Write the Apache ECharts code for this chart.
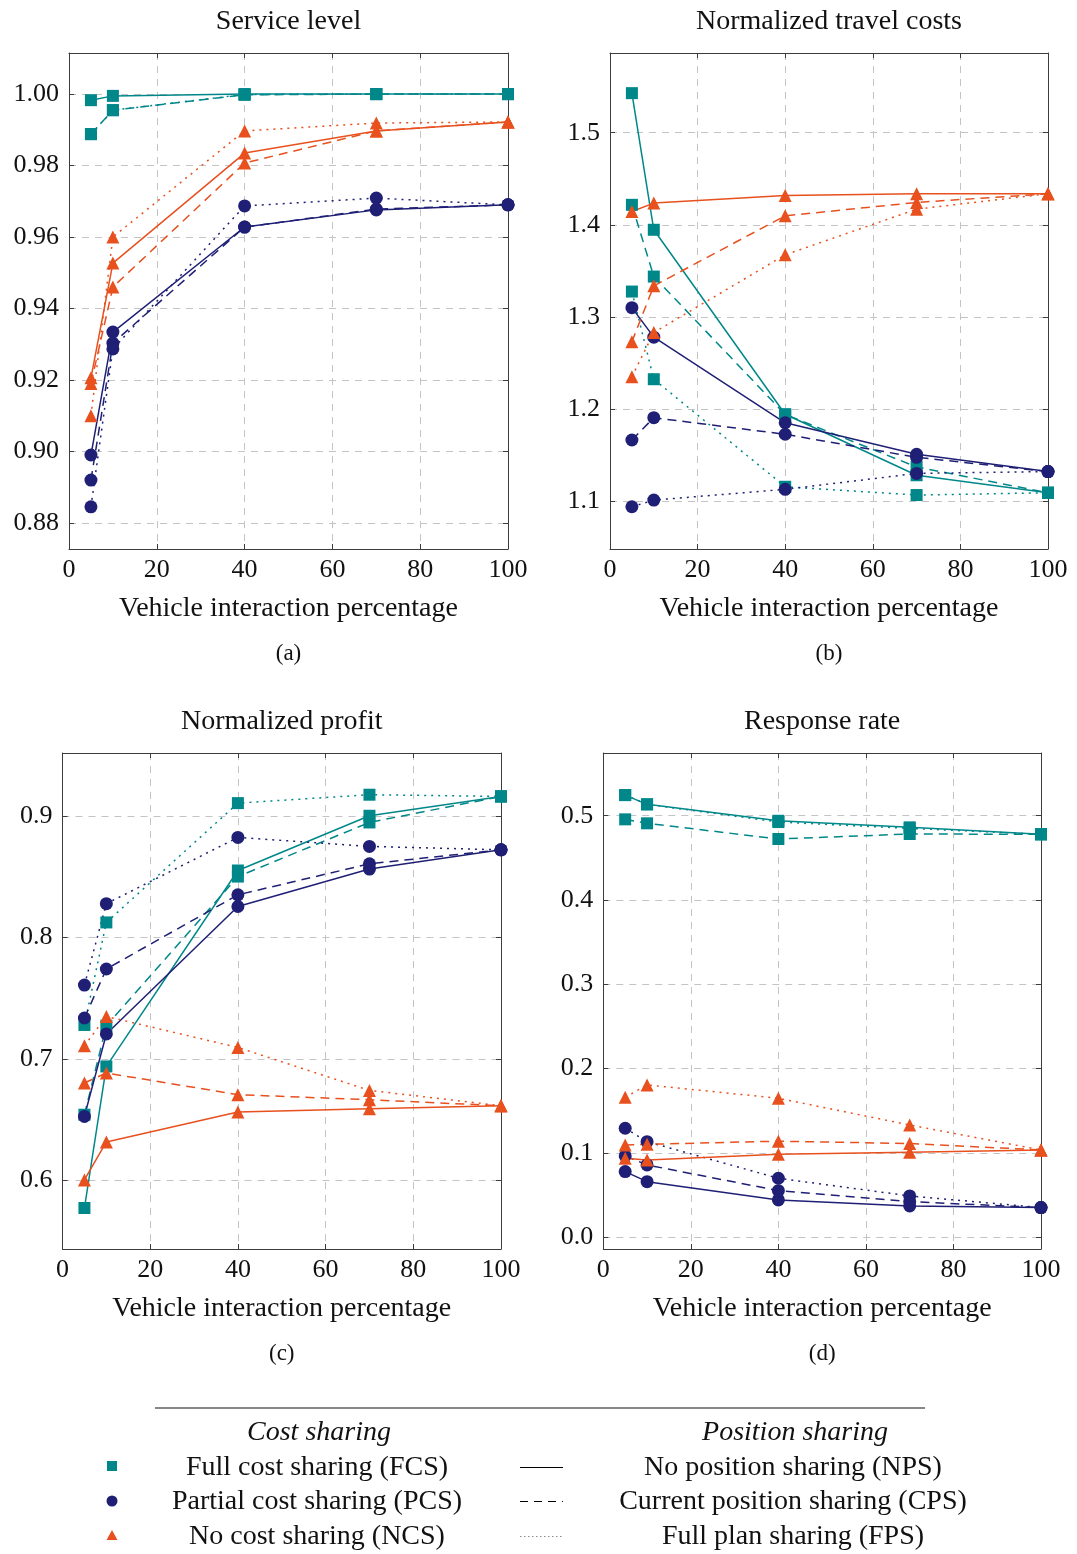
<!DOCTYPE html>
<html>
<head>
<meta charset="utf-8">
<script src="https://cdn.jsdelivr.net/npm/echarts@6/dist/echarts.min.js"></script>
<style>
html, body { margin: 0; padding: 0; background: #fff; }
#main { width: 1077px; height: 1554px; }
</style>
</head>
<body>
<div id="main"></div>
<script>
// x positions shared by every panel
const xValues = [5, 10, 40, 70, 100];
const xTicks = [0, 20, 40, 60, 80, 100];

// (a) Service level
const svcTicks = [0.88, 0.90, 0.92, 0.94, 0.96, 0.98, 1.00];
const svcFcsNps = [0.9983, 0.9995, 1.0000, 1.0000, 1.0000];
const svcFcsCps = [0.9888, 0.9955, 0.9998, 1.0000, 1.0000];
const svcFcsFps = [0.9888, 0.9955, 0.9999, 1.0000, 1.0000];
const svcPcsNps = [0.8990, 0.9334, 0.9628, 0.9676, 0.9690];
const svcPcsCps = [0.8920, 0.9303, 0.9628, 0.9678, 0.9690];
const svcPcsFps = [0.8845, 0.9287, 0.9687, 0.9709, 0.9690];
const svcNcsNps = [0.9206, 0.9527, 0.9835, 0.9897, 0.9922];
const svcNcsCps = [0.9190, 0.9460, 0.9807, 0.9897, 0.9922];
const svcNcsFps = [0.9100, 0.9600, 0.9897, 0.9919, 0.9922];

// (b) Normalized travel costs
const costTicks = [1.1, 1.2, 1.3, 1.4, 1.5];
const costFcsNps = [1.543, 1.3946, 1.1942, 1.128, 1.109];
const costFcsCps = [1.4217, 1.3438, 1.1940, 1.137, 1.109];
const costFcsFps = [1.3275, 1.2323, 1.1155, 1.1065, 1.109];
const costPcsNps = [1.310, 1.278, 1.185, 1.1507, 1.132];
const costPcsCps = [1.1663, 1.1905, 1.1725, 1.1475, 1.132];
const costPcsFps = [1.0938, 1.101, 1.1127, 1.130, 1.132];
const costNcsNps = [1.4145, 1.4236, 1.4318, 1.4337, 1.4337];
const costNcsCps = [1.273, 1.3337, 1.4098, 1.4243, 1.4337];
const costNcsFps = [1.235, 1.283, 1.3674, 1.417, 1.4337];

// (c) Normalized profit
const profitTicks = [0.6, 0.7, 0.8, 0.9];
const profitFcsNps = [0.5775, 0.6939, 0.855, 0.900, 0.9159];
const profitFcsCps = [0.6542, 0.7274, 0.850, 0.8945, 0.9159];
const profitFcsFps = [0.728, 0.8123, 0.9104, 0.9173, 0.9159];
const profitPcsNps = [0.6528, 0.7206, 0.8254, 0.8562, 0.872];
const profitPcsCps = [0.7337, 0.774, 0.835, 0.8605, 0.872];
const profitPcsFps = [0.7608, 0.8277, 0.8822, 0.8748, 0.872];
const profitNcsNps = [0.6006, 0.6318, 0.6564, 0.6592, 0.6616];
const profitNcsCps = [0.6803, 0.6885, 0.6707, 0.6665, 0.6616];
const profitNcsFps = [0.711, 0.735, 0.7095, 0.6742, 0.6616];

// (d) Response rate
const respTicks = [0.0, 0.1, 0.2, 0.3, 0.4, 0.5];
const respFcsNps = [0.5245, 0.5135, 0.494, 0.4862, 0.478];
const respFcsCps = [0.4957, 0.491, 0.4724, 0.4783, 0.478];
const respFcsFps = [0.5245, 0.5135, 0.4925, 0.485, 0.478];
const respPcsNps = [0.0779, 0.066, 0.0443, 0.0372, 0.0352];
const respPcsCps = [0.0965, 0.0858, 0.0553, 0.0423, 0.0352];
const respPcsFps = [0.1293, 0.1134, 0.070, 0.049, 0.0352];
const respNcsNps = [0.0937, 0.0917, 0.0985, 0.1008, 0.1036];
const respNcsCps = [0.1095, 0.1103, 0.1140, 0.1112, 0.1036];
const respNcsFps = [0.166, 0.1807, 0.1649, 0.1332, 0.1036];

const teal = '#00878a';
const navy = '#1f1f75';
const orange = '#e8501e';
const serif = '"Liberation Serif", "DejaVu Serif", serif';
const wordSize = 28;

const costStyle = {
	FCS: { color: teal, symbol: 'rect', size: 12 },
	PCS: { color: navy, symbol: 'circle', size: 13 },
	NCS: { color: orange, symbol: 'triangle', size: 13 }
};
const posStyle = { NPS: 'solid', CPS: [9, 6], FPS: [2, 5] };

const panels = [
	{ title: 'Service level', cap: '(a)', left: 69, top: 53, width: 439, min: 0.8727, max: 1.0115, ticks: svcTicks, dec: 2,
	  data: { FCS: [svcFcsNps, svcFcsCps, svcFcsFps], PCS: [svcPcsNps, svcPcsCps, svcPcsFps], NCS: [svcNcsNps, svcNcsCps, svcNcsFps] } },
	{ title: 'Normalized travel costs', cap: '(b)', left: 610, top: 53, width: 438, min: 1.0479, max: 1.5866, ticks: costTicks, dec: 1,
	  data: { FCS: [costFcsNps, costFcsCps, costFcsFps], PCS: [costPcsNps, costPcsCps, costPcsFps], NCS: [costNcsNps, costNcsCps, costNcsFps] } },
	{ title: 'Normalized profit', cap: '(c)', left: 62.5, top: 753, width: 438.5, min: 0.5438, max: 0.9516, ticks: profitTicks, dec: 1,
	  data: { FCS: [profitFcsNps, profitFcsCps, profitFcsFps], PCS: [profitPcsNps, profitPcsCps, profitPcsFps], NCS: [profitNcsNps, profitNcsCps, profitNcsFps] } },
	{ title: 'Response rate', cap: '(d)', left: 603.3, top: 753, width: 437.7, min: -0.0139, max: 0.5744, ticks: respTicks, dec: 1,
	  data: { FCS: [respFcsNps, respFcsCps, respFcsFps], PCS: [respPcsNps, respPcsCps, respPcsFps], NCS: [respNcsNps, respNcsCps, respNcsFps] } }
];
const plotHeight = 496;

const frame = { show: true, onZero: false, lineStyle: { color: '#3c3c3c', width: 1 } };
const tickIn = { show: true, inside: true, length: 5, lineStyle: { color: '#3c3c3c', width: 1 } };
const gridLine = { show: true, lineStyle: { color: '#c4c4c4', width: 1, type: [7, 6] } };

let grid = [], xAxis = [], yAxis = [], series = [], graphic = [];

panels.forEach((p, i) => {
	grid.push({ left: p.left, top: p.top, width: p.width, height: plotHeight });

	// bottom + top x axes
	xAxis.push({
		gridIndex: i, type: 'value', min: 0, max: 100, interval: 20, position: 'bottom',
		name: 'Vehicle interaction percentage', nameLocation: 'middle', nameGap: 46,
		nameTextStyle: { fontFamily: serif, fontSize: wordSize, color: '#111' },
		axisLine: frame, axisTick: tickIn,
		axisLabel: { margin: 8, fontFamily: serif, fontSize: 26, color: '#111' },
		splitLine: gridLine
	});
	xAxis.push({
		gridIndex: i, type: 'value', min: 0, max: 100, interval: 20, position: 'top',
		axisLine: frame, axisTick: tickIn, axisLabel: { show: false }, splitLine: { show: false }
	});

	// left + right y axes
	yAxis.push({
		gridIndex: i, type: 'value', min: p.min, max: p.max, position: 'left',
		axisLine: frame,
		axisTick: Object.assign({ customValues: p.ticks }, tickIn),
		axisLabel: { customValues: p.ticks, formatter: v => v.toFixed(p.dec), margin: 10, fontFamily: serif, fontSize: 26, color: '#111' },
		splitLine: gridLine
	});
	yAxis.push({
		gridIndex: i, type: 'value', min: p.min, max: p.max, position: 'right',
		axisLine: frame,
		axisTick: Object.assign({ customValues: p.ticks }, tickIn),
		axisLabel: { show: false }, splitLine: { show: false }
	});

	['FCS', 'PCS', 'NCS'].forEach(c => {
		['NPS', 'CPS', 'FPS'].forEach((pos, k) => {
			const cs = costStyle[c];
			series.push({
				type: 'line', name: c + '-' + pos,
				xAxisIndex: 2 * i, yAxisIndex: 2 * i,
				data: xValues.map((x, j) => [x, p.data[c][k][j]]),
				symbol: cs.symbol, symbolSize: cs.size, showAllSymbol: true,
				itemStyle: { color: cs.color },
				lineStyle: { color: cs.color, width: 1.5, type: posStyle[pos] },
				emphasis: { disabled: true }, animation: false
			});
		});
	});

	const cx = p.left + p.width / 2;
	graphic.push({ type: 'text', x: cx, y: p.top - 31, style: { text: p.title, font: wordSize + 'px ' + serif, fill: '#111', align: 'center', verticalAlign: 'middle' } });
	graphic.push({ type: 'text', x: cx, y: p.top + plotHeight + 105, style: { text: p.cap, font: '23px ' + serif, fill: '#111', align: 'center', verticalAlign: 'middle' } });
});

// legend block at the bottom
graphic.push({ type: 'line', shape: { x1: 155, y1: 1408, x2: 925, y2: 1408 }, style: { stroke: '#111', lineWidth: 1.2 } });
graphic.push({ type: 'text', x: 319, y: 1433, style: { text: 'Cost sharing', font: 'italic ' + wordSize + 'px ' + serif, fill: '#111', align: 'center', verticalAlign: 'middle' } });
graphic.push({ type: 'text', x: 795, y: 1433, style: { text: 'Position sharing', font: 'italic ' + wordSize + 'px ' + serif, fill: '#111', align: 'center', verticalAlign: 'middle' } });

const legendRows = [1468, 1502, 1537];
const costNames = ['Full cost sharing (FCS)', 'Partial cost sharing (PCS)', 'No cost sharing (NCS)'];
const posNames = ['No position sharing (NPS)', 'Current position sharing (CPS)', 'Full plan sharing (FPS)'];
legendRows.forEach((y, r) => {
	graphic.push({ type: 'text', x: 317, y: y, style: { text: costNames[r], font: wordSize + 'px ' + serif, fill: '#111', align: 'center', verticalAlign: 'middle' } });
	graphic.push({ type: 'text', x: 793, y: y, style: { text: posNames[r], font: wordSize + 'px ' + serif, fill: '#111', align: 'center', verticalAlign: 'middle' } });
});
graphic.push({ type: 'rect', shape: { x: 107, y: 1461, width: 10, height: 10 }, style: { fill: teal } });
graphic.push({ type: 'circle', shape: { cx: 112, cy: 1501, r: 5.5 }, style: { fill: navy } });
graphic.push({ type: 'polygon', shape: { points: [[112, 1530], [106.5, 1540], [117.5, 1540]] }, style: { fill: orange } });
graphic.push({ type: 'line', shape: { x1: 520, y1: 1467.5, x2: 563, y2: 1467.5 }, style: { stroke: '#000', lineWidth: 1 } });
graphic.push({ type: 'line', shape: { x1: 520, y1: 1501.5, x2: 563, y2: 1501.5 }, style: { stroke: '#000', lineWidth: 1, lineDash: [8, 6] } });
graphic.push({ type: 'line', shape: { x1: 520, y1: 1536.5, x2: 563, y2: 1536.5 }, style: { stroke: '#888', lineWidth: 1, lineDash: [1.5, 2.5] } });

const chart = echarts.init(document.getElementById('main'));
chart.setOption({
	backgroundColor: '#fff',
	animation: false,
	grid, xAxis, yAxis, series, graphic
});
</script>
</body>
</html>
